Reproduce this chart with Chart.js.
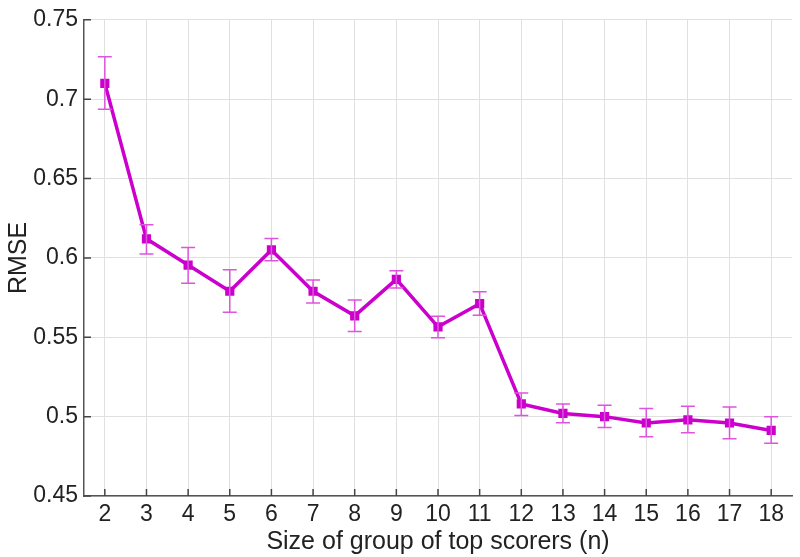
<!DOCTYPE html>
<html>
<head>
<meta charset="utf-8">
<script src="https://cdn.jsdelivr.net/npm/chart.js@4/dist/chart.umd.min.js"></script>
<style>
  html, body { margin: 0; padding: 0; background: #ffffff; }
  #wrap { width: 800px; height: 557px; position: relative; }
</style>
</head>
<body>
<div id="wrap"><canvas id="c" width="800" height="557"></canvas></div>
<script>
// ---- data ----
const groupSizes = [2, 3, 4, 5, 6, 7, 8, 9, 10, 11, 12, 13, 14, 15, 16, 17, 18];
const rmse      = [0.710, 0.612, 0.5955, 0.579, 0.605, 0.579, 0.5635, 0.5865, 0.5566, 0.5712, 0.508, 0.502, 0.500, 0.496, 0.498, 0.496, 0.4913];
const errUpper  = [0.7267, 0.6209, 0.6065, 0.5925, 0.6123, 0.586, 0.5735, 0.5919, 0.5633, 0.5787, 0.5149, 0.508, 0.5072, 0.5051, 0.5065, 0.5061, 0.4999];
const errLower  = [0.6937, 0.6025, 0.5841, 0.5658, 0.5982, 0.5716, 0.5537, 0.581, 0.5497, 0.5639, 0.5007, 0.4961, 0.4932, 0.4874, 0.4899, 0.4861, 0.4833];
const yTickValues = [0.45, 0.5, 0.55, 0.6, 0.65, 0.7, 0.75];
const yTickLabels = ['0.45', '0.5', '0.55', '0.6', '0.65', '0.7', '0.75'];
const xTitle = 'Size of group of top scorers (n)';
const yTitle = 'RMSE';

const LINE = '#cc00cc';
const ERR = '#dd55dd';
const FONT = "'Liberation Sans', Arial, Helvetica, sans-serif";

const errorBars = {
  id: 'errorBars',
  afterDatasetsDraw(chart) {
    const { ctx, scales: { x, y } } = chart;
    ctx.save();
    ctx.strokeStyle = ERR;
    ctx.lineWidth = 1.5;
    const cap = 7;
    groupSizes.forEach((g, i) => {
      const px = x.getPixelForValue(g);
      const top = y.getPixelForValue(errUpper[i]);
      const bot = y.getPixelForValue(errLower[i]);
      ctx.beginPath();
      ctx.moveTo(px, top); ctx.lineTo(px, bot);
      ctx.moveTo(px - cap, top); ctx.lineTo(px + cap, top);
      ctx.moveTo(px - cap, bot); ctx.lineTo(px + cap, bot);
      ctx.stroke();
    });
    ctx.restore();
  }
};

const innerTicks = {
  id: 'innerTicks',
  afterDraw(chart) {
    const { ctx, chartArea: a, scales: { x, y } } = chart;
    ctx.save();
    ctx.strokeStyle = '#444';
    ctx.lineWidth = 1.5;
    ctx.beginPath();
    x.ticks.forEach(t => {
      const px = x.getPixelForValue(t.value);
      ctx.moveTo(px, a.bottom); ctx.lineTo(px, a.bottom - 7);
    });
    y.ticks.forEach(t => {
      const py = y.getPixelForValue(t.value);
      ctx.moveTo(a.left, py); ctx.lineTo(a.left + 7, py);
    });
    ctx.stroke();
    ctx.restore();
  }
};

new Chart(document.getElementById('c'), {
  type: 'line',
  data: {
    datasets: [{
      data: groupSizes.map((g, i) => ({ x: g, y: rmse[i] })),
      borderColor: LINE,
      backgroundColor: LINE,
      borderWidth: 3.5,
      pointStyle: 'rect',
      pointRadius: 6.5,
      pointBorderWidth: 0,
      tension: 0
    }]
  },
  options: {
    responsive: false,
    animation: false,
    devicePixelRatio: 1,
    layout: { padding: { top: 17, right: 8, left: 0, bottom: 0 } },
    plugins: { legend: { display: false }, tooltip: { enabled: false } },
    scales: {
      x: {
        type: 'linear',
        min: 1.5, max: 18.5,
        afterBuildTicks: s => { s.ticks = groupSizes.map(v => ({ value: v })); },
        afterFit: s => { s.height = 61; },
        grid: { color: '#e0e0e0', lineWidth: 1, drawTicks: false },
        border: { display: true, color: '#555', width: 1.5 },
        ticks: { color: '#222', font: { family: FONT, size: 23 }, padding: 5, maxRotation: 0, autoSkip: false },
        title: { display: true, text: xTitle, color: '#222', font: { family: FONT, size: 25 }, padding: { top: 0, bottom: 0 } }
      },
      y: {
        type: 'linear',
        min: 0.45, max: 0.75,
        afterBuildTicks: s => { s.ticks = yTickValues.map(v => ({ value: v })); },
        afterFit: s => { s.width = 84; },
        grid: { color: '#e0e0e0', lineWidth: 1, drawTicks: false },
        border: { display: true, color: '#555', width: 1.5 },
        ticks: {
          color: '#222', font: { family: FONT, size: 23 }, padding: 6,
          callback: (v) => { const i = yTickValues.findIndex(t => Math.abs(t - v) < 1e-9); return i >= 0 ? yTickLabels[i] : ''; }
        },
        title: { display: true, text: yTitle, color: '#222', font: { family: FONT, size: 25 }, padding: { top: 4, bottom: 0 } }
      }
    }
  },
  plugins: [errorBars, innerTicks]
});
</script>
</body>
</html>
